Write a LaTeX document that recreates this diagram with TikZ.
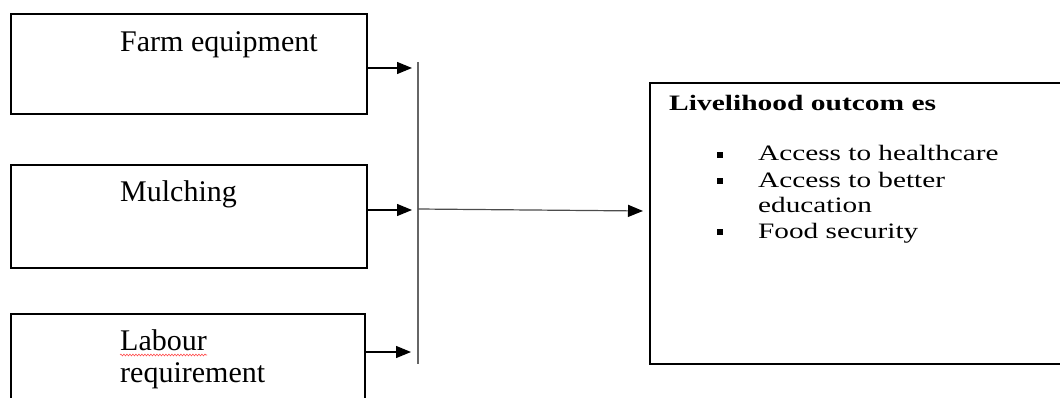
\documentclass[tikz,border=0pt]{standalone}
\usepackage{fontspec}
\setmainfont{Liberation Serif}
\usetikzlibrary{arrows.meta,decorations.pathmorphing}
\tikzset{
  box/.style={draw=black, line width=2pt, inner sep=0pt, anchor=north west},
  lbl/.style={anchor=base west, inner sep=0pt, font=\fontsize{30}{34}\selectfont},
  rlbl/.style={anchor=base west, inner sep=0pt, font=\fontsize{22}{25}\selectfont},
  arr/.style={line width=1.2pt, -{Triangle[length=15pt,width=12pt,color=black,fill=black]}},
  bar/.style={draw=black!60, line width=1.4pt},
  bul/.style={fill=black, inner sep=0pt, minimum size=6pt},
  spell/.style={draw=red!70, line width=0.6pt, decorate, decoration={snake, amplitude=0.9pt, segment length=3pt}}
}
\begin{document}
\begin{tikzpicture}[x=1pt,y=-1pt]
\useasboundingbox (0,0) rectangle (1060,398);
% input boxes
\node[box, minimum width=356pt, minimum height=100pt] (fe) at (10,13) {};
\node[box, minimum width=356pt, minimum height=103pt] (mu) at (10,164) {};
\node[box, minimum width=354pt, minimum height=120pt] (la) at (10,313) {};
\node[lbl] (t1) at (120,52) {Farm equipment};
\node[lbl] (t2) at (120,202) {Mulching};
\node[lbl] (t3) at (120,350) {Labour};
\node[lbl] (t4) at (120,382) {requirement};
\draw[spell] (t3.base west) ++(0,5) coordinate (s1) -- ++(87,0) coordinate (s2);
% collector bar
\coordinate (vtop) at (418,62);
\coordinate (vbot) at (418,364);
\draw[bar] (vtop) -- (vbot);
\coordinate (a1) at (412,68);
\coordinate (a2) at (412,210);
\coordinate (a3) at (411,352);
\draw[arr] (fe.east |- a1) -- (a1);
\draw[arr] (mu.east |- a2) -- (a2);
\draw[arr] (la.east |- a3) -- (a3);
% output box
\node[box, minimum width=430pt, minimum height=281pt] (out) at (649,82) {};
\coordinate (hs) at (418,209);
\coordinate (he) at (643,211);
\draw[arr, draw=black!70] (hs) -- (he);
\node[rlbl] (h) at (669,111) {\scalebox{1.34}[1]{\bfseries Livelihood outcom es}};
\node[bul] (b1) at (720,155) {};
\node[bul] (b2) at (720,181) {};
\node[bul] (b3) at (720,232) {};
\node[rlbl] (i1) at (758,161) {\scalebox{1.33}[1]{Access to healthcare}};
\node[rlbl] (i2) at (758,188) {\scalebox{1.33}[1]{Access to better}};
\node[rlbl] (i3) at (758,213) {\scalebox{1.33}[1]{education}};
\node[rlbl] (i4) at (758,239) {\scalebox{1.33}[1]{Food security}};
\end{tikzpicture}
\end{document}
